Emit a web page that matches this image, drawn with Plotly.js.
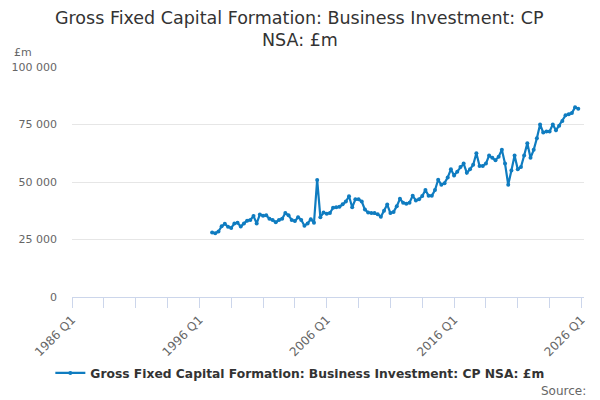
<!DOCTYPE html>
<html>
<head>
<meta charset="utf-8">
<script src="https://cdn.plot.ly/plotly-3.0.1.min.js"></script>
<style>
  html, body { margin: 0; padding: 0; background: #fff; }
  #chart { width: 600px; height: 400px; }
</style>
</head>
<body>
<div id="chart"></div>
<script>
// quarterly values, 1997 Q1 onwards (£m, current prices, not seasonally adjusted)
var firstYear = 1997;
var values = [
  28000, 27700, 28500, 30800, 31800, 30500, 30000, 32000,
  32300, 30600, 32000, 33200, 33500, 35200, 32000, 35900,
  35300, 35500, 34000, 33500, 32500, 33500, 34000, 36500,
  35500, 33500, 33000, 34700, 33500, 31000, 32000, 33800,
  32300, 50900, 34700, 36700, 36200, 36500, 38800, 39000,
  39200, 40300, 41500, 43800, 39000, 42500, 42500, 41500,
  38000, 36700, 36500, 36500, 36000, 34900, 37500, 40200,
  36500, 37000, 39500, 42700, 41000, 40500, 41000, 44000,
  42000, 42500, 43900, 46500, 44000, 44000, 46500, 51000,
  48800, 49500, 52000, 55500, 52800, 54500, 56500, 58000,
  54000, 55500, 57500, 62500, 57000, 57000, 58000, 61500,
  60500, 59500, 61000, 64000, 58000, 48800, 55000, 61500,
  55500, 56500, 61500, 66800, 60500, 64000, 69000, 75000,
  71500, 72000, 72000, 75000, 72500, 74500, 76500, 79000,
  79500, 80000, 82500, 81800
];

// axis runs 1986 Q1 to 2026 Q1
var axisStart = 1986, axisEnd = 2026;
var allQuarters = [];
for (var y = axisStart; y <= axisEnd; y++) {
  for (var q = 1; q <= 4; q++) {
    if (y === axisEnd && q > 1) break;
    allQuarters.push(y + ' Q' + q);
  }
}
var quarters = values.map(function (v, i) {
  return (firstYear + Math.floor(i / 4)) + ' Q' + (i % 4 + 1);
});

var tickVals = allQuarters.filter(function (c, i) { return i % 10 === 0; });
var tickText = tickVals.map(function (c, i) { return i % 4 === 0 ? c : ''; });

var titleLines = ['Gross Fixed Capital Formation: Business Investment: CP', 'NSA: £m'];
var seriesName = 'Gross Fixed Capital Formation: Business Investment: CP NSA: £m';

var data = [{
  type: 'scatter',
  mode: 'lines+markers',
  x: quarters,
  y: values,
  name: seriesName,
  line: { color: '#0f7cc0', width: 2.2 },
  marker: { color: '#0f7cc0', size: 4 }
}];

var layout = {
  width: 600, height: 400,
  margin: { t: 67, r: 16, b: 103, l: 72 },
  font: { family: 'DejaVu Sans, sans-serif', color: '#666' },
  separators: '. ',
  xaxis: {
    type: 'category',
    categoryorder: 'array',
    categoryarray: allQuarters,
    range: [0, 160.8],
    tickmode: 'array',
    tickvals: tickVals,
    ticktext: tickText,
    tickangle: -45,
    ticks: 'outside',
    ticklen: 10,
    tickcolor: '#ccd6eb',
    showline: true,
    linecolor: '#ccd6eb',
    showgrid: false,
    zeroline: false,
    tickfont: { size: 12, color: '#666' }
  },
  yaxis: {
    range: [0, 100000],
    tickvals: [0, 25000, 50000, 75000, 100000],
    tickformat: ',d',
    gridcolor: '#e6e6e6',
    zeroline: false,
    ticks: '',
    ticklabelstandoff: 14,
    tickfont: { size: 11, color: '#666' }
  },
  showlegend: true,
  legend: {
    orientation: 'h',
    x: 0.445, xanchor: 'center',
    y: -0.33, yanchor: 'middle',
    font: { size: 12.3, color: '#333', weight: 'bold' }
  },
  annotations: [
    { text: titleLines[0], xref: 'paper', yref: 'paper', x: 0.445, y: 1.213,
      xanchor: 'center', yanchor: 'middle', showarrow: false,
      font: { size: 17.5, color: '#333' } },
    { text: titleLines[1], xref: 'paper', yref: 'paper', x: 0.445, y: 1.117,
      xanchor: 'center', yanchor: 'middle', showarrow: false,
      font: { size: 17.5, color: '#333' } },
    { text: '£m', xref: 'paper', yref: 'paper', x: -0.117, y: 1.065,
      xanchor: 'left', yanchor: 'middle', showarrow: false,
      font: { size: 11, color: '#666' } },
    { text: 'Source:', xref: 'paper', yref: 'paper', x: 1.008, y: -0.41,
      xanchor: 'right', yanchor: 'middle', showarrow: false,
      font: { size: 12, color: '#666' } }
  ]
};

Plotly.newPlot('chart', data, layout, { displayModeBar: false, responsive: false });
</script>
</body>
</html>
